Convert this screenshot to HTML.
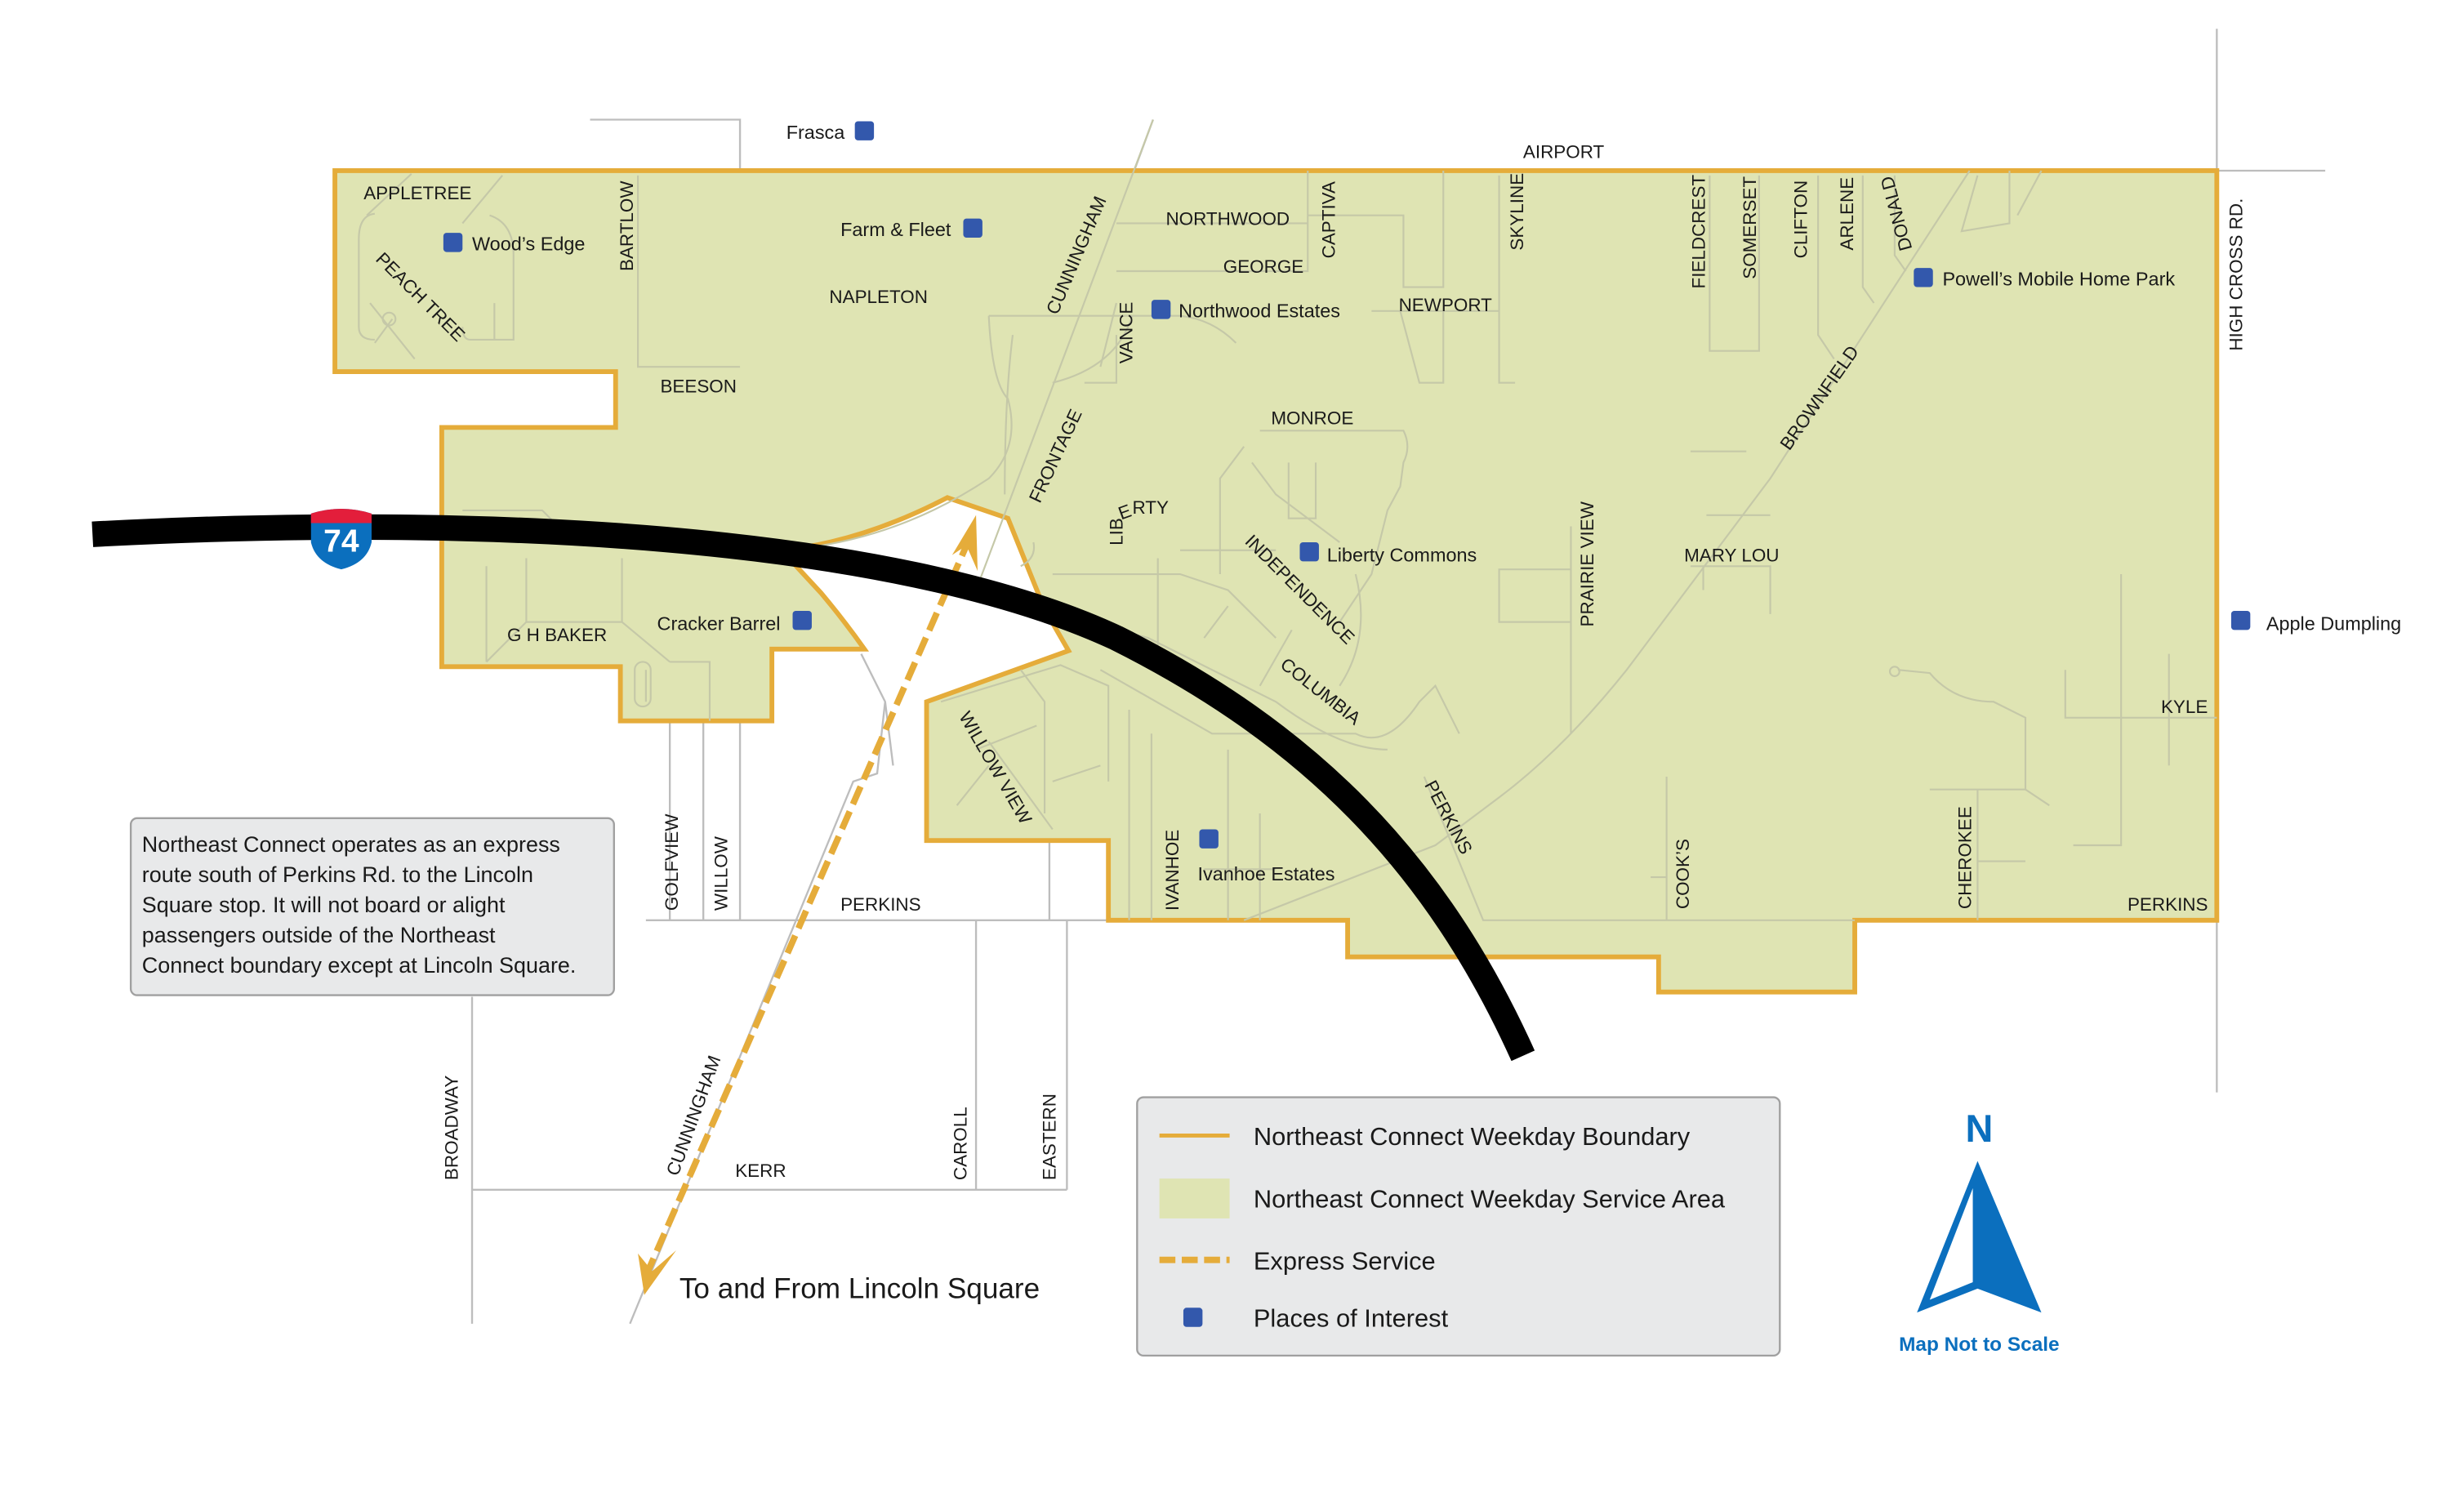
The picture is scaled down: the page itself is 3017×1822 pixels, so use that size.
<!DOCTYPE html>
<html><head><meta charset="utf-8"><style>
html,body{margin:0;padding:0;background:#fff}
svg{display:block}
text{font-family:"Liberation Sans",sans-serif;fill:#1a1a1a}
.s{font-size:11.5px}
.p{font-size:12px}
.r{stroke:#c5c8a8;stroke-width:1.1;fill:none}
.o{stroke:#bdbdbd;stroke-width:1.2;fill:none}
.q{fill:#3358ac}
</style></head><body>
<svg width="3017" height="1822" viewBox="0 0 1545 933" xmlns="http://www.w3.org/2000/svg">
<rect width="1545" height="933" fill="#fff"/>
<g class="o">
<path d="M370,75 H464 V577"/>
<path d="M1390,18 V685"/>
<path d="M1390,107 H1458"/>
<path d="M405,577 H695"/>
<path d="M420,452 V577 M441,452 V577"/>
<path d="M296,625 V830 M296,746 H669 M612,577 V746 M669,577 V746 M658,527 V577"/>
<path d="M723,75 L640,300"/>
<path d="M540,410 L555,440 L550,485 L535,490 L395,830"/>
<path d="M555,440 L560,480"/>
</g>
<path d="M210,107 H1390 V577 H1163 V622 H1040 V600 H845 V577 H695 V527 H581 V440 L670,408 L655,382 L632,325 L594,312 Q540,340 490,345 L515,372 Q530,390 542,407 H484 V452 H389 V418 H277 V268 H386 V233 H210 Z" fill="#dfe4b3" stroke="#e5ac3a" stroke-width="3" stroke-linejoin="miter"/>
<g class="r">
<path d="M723,75 L612,370"/>
<path d="M258,109 L230,135 M315,110 L290,140"/>
<path d="M235,134 Q225,135 225,150 V205 Q225,213 235,213 M307,135 Q322,140 322,160 V213 H295 Q290,213 290,205"/>
<path d="M232,190 L260,225 M246,200 L235,215 M310,190 V213"/>
<path d="M400,110 V230 H464"/>
<path d="M620,198 H740 Q760,200 775,215 M710,198 Q700,230 660,240 M635,210 Q630,250 630,310"/>
<path d="M620,198 Q622,240 632,250 Q640,280 620,300 Q560,340 490,345"/>
<path d="M290,320 H340 L350,330 Q420,345 490,345"/>
<path d="M305,355 V415 M330,350 V390 H390 V350 M390,390 L420,415 M330,390 L305,415 M420,415 H445 V452 M405,420 V440"/>
<path d="M700,140 H820 M700,170 H820 V107 M820,135 H880 V180 H905 V107"/>
<path d="M878,195 L890,240 H905 V195 M860,195 H940 M940,110 V240 H950"/>
<path d="M680,240 H700 V210 M700,190 L690,230"/>
<path d="M790,270 H880 Q885,280 880,290 L878,305 L870,320 Q865,340 860,360 L840,390"/>
<path d="M780,280 L765,300 V360 M785,290 L800,310 L840,340 M808,290 V325 H825 V290"/>
<path d="M648,340 Q650,350 640,355 M660,360 H740 L770,370 L800,400 M740,345 H800 M726,350 V410 M690,420 L760,460 L850,460 Q870,470 890,440 L900,430 L915,460"/>
<path d="M770,380 L755,400 M810,395 L790,430 M850,360 Q860,400 840,430"/>
<path d="M655,382 L720,400 L800,440 Q840,470 870,470"/>
<path d="M1280,107 L1265,135 M1240,110 L1230,145 L1260,140 V107"/>
<path d="M1235,107 L1110,300 L1020,420 Q980,470 940,500 L900,530 L780,577"/>
<path d="M1072,110 V220 H1103 V110 M1140,110 V210 L1150,225 M1168,110 V180 L1175,190 M1188,110 V160 L1195,170"/>
<path d="M1060,283 H1095 M1070,323 H1110 M1060,355 H1110 V385 M1068,355 V370"/>
<path d="M940,357 H985 V390 H940 Z M985,330 V460"/>
<path d="M1330,360 V530 H1300 M1295,420 V450 H1390 M1360,410 V480"/>
<path d="M1190,420 L1210,422 Q1225,440 1250,440 L1270,450 V495 L1285,505"/>
<path d="M1210,495 H1270 M1240,495 V577 M1240,540 H1270"/>
<path d="M1045,487 V577 M1035,550 H1045 M893,487 L930,577 H1163"/>
<path d="M590,440 L665,417 L695,430 V490 M640,420 L655,440 V510 M612,470 L650,455 M600,505 L620,480 M660,490 L690,480 M620,465 L660,520"/>
<path d="M708,445 V577 M722,460 V577 M770,470 V577 M790,510 V577 M755,545 H800"/>
<circle cx="1188" cy="421" r="3"/>
<circle cx="244" cy="200" r="4"/>
<rect x="398" y="415" width="10" height="28" rx="5"/>
</g>
<path d="M405,800 L606,342" stroke="#e5ac3a" stroke-width="4" stroke-dasharray="12,5" fill="none"/>
<polygon points="612,323 597,348 606,342 613,358" fill="#e5ac3a"/>
<polygon points="404,812 400,786 409,797 424,784" fill="#e5ac3a"/>
<path d="M58,335 C300,322 560,335 700,400 C820,460 900,540 955,662" stroke="#000" stroke-width="16" fill="none"/>
<path d="M195,322 Q214,316 233,322 V340 Q230,353 214,357 Q198,353 195,340 Z" fill="#0b6fbe"/>
<path d="M195,322 Q214,316 233,322 V328 H195 Z" fill="#e31e3b"/>
<text x="214" y="346" font-size="20" font-weight="bold" text-anchor="middle" style="fill:#fff">74</text>
<g class="q">
<rect x="536" y="76" width="12" height="12" rx="2"/>
<rect x="278" y="146" width="12" height="12" rx="2"/>
<rect x="604" y="137" width="12" height="12" rx="2"/>
<rect x="722" y="188" width="12" height="12" rx="2"/>
<rect x="1200" y="168" width="12" height="12" rx="2"/>
<rect x="815" y="340" width="12" height="12" rx="2"/>
<rect x="1399" y="383" width="12" height="12" rx="2"/>
<rect x="497" y="383" width="12" height="12" rx="2"/>
<rect x="752" y="520" width="12" height="12" rx="2"/>
</g>
<g class="p">
<text x="493" y="87">Frasca</text>
<text x="296" y="157">Wood’s Edge</text>
<text x="527" y="148">Farm &amp; Fleet</text>
<text x="739" y="199">Northwood Estates</text>
<text x="1218" y="179">Powell’s Mobile Home Park</text>
<text x="832" y="352">Liberty Commons</text>
<text x="1421" y="395">Apple Dumpling</text>
<text x="412" y="395">Cracker Barrel</text>
<text x="751" y="552">Ivanhoe Estates</text>
</g>
<g class="s">
<text x="955" y="99">AIRPORT</text>
<text x="228" y="125">APPLETREE</text>
<text transform="translate(235,163) rotate(45)">PEACH TREE</text>
<text transform="translate(397,170) rotate(-90)">BARTLOW</text>
<text transform="translate(663,198) rotate(-67)">CUNNINGHAM</text>
<text x="520" y="190">NAPLETON</text>
<text x="414" y="246">BEESON</text>
<text x="731" y="141">NORTHWOOD</text>
<text x="767" y="171">GEORGE</text>
<text transform="translate(837,162) rotate(-90)">CAPTIVA</text>
<text transform="translate(710,228) rotate(-90)">VANCE</text>
<text x="877" y="195">NEWPORT</text>
<text transform="translate(955,157) rotate(-90)">SKYLINE</text>
<text transform="translate(1069,181) rotate(-90)">FIELDCREST</text>
<text transform="translate(1101,175) rotate(-90)">SOMERSET</text>
<text transform="translate(1133,162) rotate(-90)">CLIFTON</text>
<text transform="translate(1162,157) rotate(-90)">ARLENE</text>
<text transform="translate(1199,156) rotate(-105)">DONALD</text>
<text transform="translate(1406,220) rotate(-90)">HIGH CROSS RD.</text>
<text x="797" y="266">MONROE</text>
<text transform="translate(652,316) rotate(-65)">FRONTAGE</text>
<text transform="translate(704,342) rotate(-90)">LIB</text>
<text transform="translate(703,326) rotate(-20)">E</text>
<text x="710" y="322">RTY</text>
<text transform="translate(780,340) rotate(45)">INDEPENDENCE</text>
<text transform="translate(802,418) rotate(38)">COLUMBIA</text>
<text transform="translate(999,393) rotate(-90)">PRAIRIE VIEW</text>
<text transform="translate(1122,283) rotate(-55)">BROWNFIELD</text>
<text x="1056" y="352">MARY LOU</text>
<text x="1355" y="447">KYLE</text>
<text x="318" y="402">G H BAKER</text>
<text transform="translate(601,449) rotate(60)">WILLOW VIEW</text>
<text transform="translate(893,492) rotate(62)">PERKINS</text>
<text transform="translate(739,571) rotate(-90)">IVANHOE</text>
<text transform="translate(1059,570) rotate(-90)">COOK’S</text>
<text transform="translate(1236,570) rotate(-90)">CHEROKEE</text>
<text x="1334" y="571">PERKINS</text>
<text x="527" y="571">PERKINS</text>
<text transform="translate(425,571) rotate(-90)">GOLFVIEW</text>
<text transform="translate(456,571) rotate(-90)">WILLOW</text>
<text transform="translate(287,740) rotate(-90)">BROADWAY</text>
<text transform="translate(425,738) rotate(-70)">CUNNINGHAM</text>
<text x="461" y="738">KERR</text>
<text transform="translate(606,740) rotate(-90)">CAROLL</text>
<text transform="translate(662,740) rotate(-90)">EASTERN</text>
</g>
<text x="426" y="814" font-size="18">To and From Lincoln Square</text>
<rect x="82" y="513" width="303" height="111" rx="4" fill="#e8e9ea" stroke="#a0a0a0" stroke-width="1.2"/>
<g font-size="13.8">
<text x="89" y="534">Northeast Connect operates as an express</text>
<text x="89" y="553">route south of Perkins Rd. to the Lincoln</text>
<text x="89" y="572">Square stop. It will not board or alight</text>
<text x="89" y="591">passengers outside of the Northeast</text>
<text x="89" y="610">Connect boundary except at Lincoln Square.</text>
</g>
<rect x="713" y="688" width="403" height="162" rx="4" fill="#e8e9ea" stroke="#a0a0a0" stroke-width="1.2"/>
<line x1="727" y1="712" x2="771" y2="712" stroke="#e5ac3a" stroke-width="2.5"/>
<rect x="727" y="739" width="44" height="25" fill="#dfe4b3"/>
<line x1="727" y1="790" x2="771" y2="790" stroke="#e5ac3a" stroke-width="4" stroke-dasharray="10,4"/>
<rect x="742" y="820" width="12" height="12" rx="2" class="q"/>
<g font-size="15.8">
<text x="786" y="718">Northeast Connect Weekday Boundary</text>
<text x="786" y="757">Northeast Connect Weekday Service Area</text>
<text x="786" y="796">Express Service</text>
<text x="786" y="832">Places of Interest</text>
</g>
<polygon points="1240,728 1202,823 1240,808 1280,823" fill="#0b6fbe"/>
<polygon points="1237,745 1210,815 1237,804" fill="#fff"/>
<text x="1241" y="716" font-size="24" font-weight="bold" text-anchor="middle" style="fill:#0b6fbe">N</text>
<text x="1241" y="847" font-size="12.5" font-weight="bold" text-anchor="middle" style="fill:#0b6fbe">Map Not to Scale</text>
</svg>
</body></html>
